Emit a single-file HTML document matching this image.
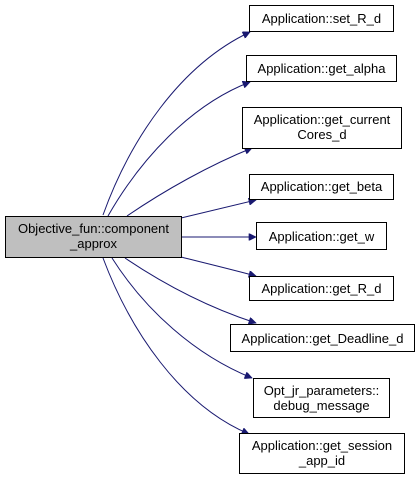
<!DOCTYPE html>
<html><head><meta charset="utf-8"><style>
html,body{margin:0;padding:0;background:#fff;}
svg{display:block;}
text{font-family:"Liberation Sans",Arial,sans-serif;font-size:13px;fill:#000;}
</style></head><body>
<svg width="419" height="488" viewBox="0 0 419 488" xmlns="http://www.w3.org/2000/svg">
<defs>
<marker id="a" viewBox="0 0 10 10" refX="10" refY="5" markerWidth="10" markerHeight="7" markerUnits="userSpaceOnUse" orient="auto">
<path d="M0,0 L10,5 L0,10 z" fill="#191970" stroke="#191970"/>
</marker>
</defs>
<g fill="none" stroke="#191970" stroke-width="1">
<path d="M103,215 C130,140 180,65 250,32" marker-end="url(#a)"/>
<path d="M108,216 C140,160 190,105 250,82" marker-end="url(#a)"/>
<path d="M127,216 C165,190 210,165 252,148" marker-end="url(#a)"/>
<path d="M181,218 C205,212 230,206 256,200" marker-end="url(#a)"/>
<path d="M181,237 L256,237" marker-end="url(#a)"/>
<path d="M181,257 C205,263 230,269 256,276" marker-end="url(#a)"/>
<path d="M125,258 C165,285 210,308 256,323" marker-end="url(#a)"/>
<path d="M112,258 C145,310 195,355 252,378" marker-end="url(#a)"/>
<path d="M103,258 C130,330 180,405 249,434" marker-end="url(#a)"/>
</g>
<g stroke="#000" stroke-width="1">
<rect x="5.5" y="216.5" width="176" height="41" fill="#bfbfbf"/>
<rect x="249.5" y="5.5" width="144" height="26" fill="#fff"/>
<rect x="246.5" y="55.5" width="150" height="26" fill="#fff"/>
<rect x="242.5" y="107.5" width="159" height="41" fill="#fff"/>
<rect x="249.5" y="174.5" width="144" height="25" fill="#fff"/>
<rect x="256.5" y="222.5" width="130" height="27" fill="#fff"/>
<rect x="249.5" y="276.5" width="144" height="24" fill="#fff"/>
<rect x="230.5" y="324.5" width="184" height="27" fill="#fff"/>
<rect x="253.5" y="378.5" width="136" height="39" fill="#fff"/>
<rect x="239.5" y="433.5" width="165" height="40" fill="#fff"/>
</g>
<g text-anchor="middle">
<text x="93.5" y="233">Objective_fun::component</text>
<text x="93.5" y="248">_approx</text>
<text x="321.5" y="23">Application::set_R_d</text>
<text x="321.5" y="73">Application::get_alpha</text>
<text x="322" y="124">Application::get_current</text>
<text x="322" y="139">Cores_d</text>
<text x="321.5" y="191">Application::get_beta</text>
<text x="321.5" y="241">Application::get_w</text>
<text x="321.5" y="293">Application::get_R_d</text>
<text x="322.5" y="343">Application::get_Deadline_d</text>
<text x="321.5" y="395">Opt_jr_parameters::</text>
<text x="321.5" y="410">debug_message</text>
<text x="322" y="450">Application::get_session</text>
<text x="322" y="465">_app_id</text>
</g>
</svg>
</body></html>
